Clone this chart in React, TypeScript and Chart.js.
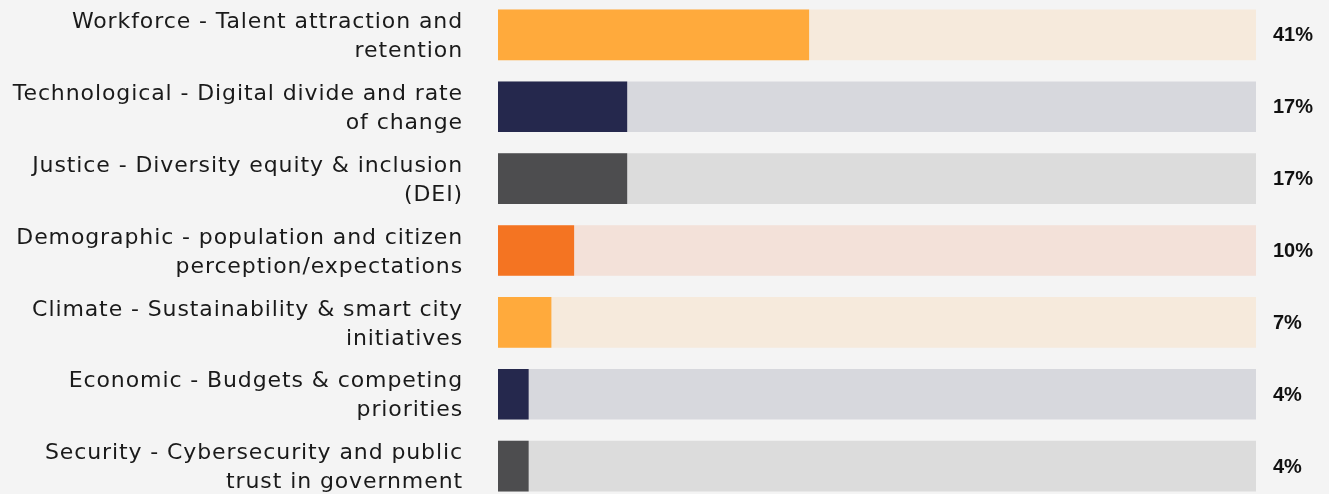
import React, { useEffect, useRef } from "react";
import { Chart, registerables } from "chart.js";

Chart.register(...registerables);

const categories: string[][] = [
  ["Workforce - Talent attraction and", "retention"],
  ["Technological - Digital divide and rate", "of change"],
  ["Justice - Diversity equity & inclusion", "(DEI)"],
  ["Demographic - population and citizen", "perception/expectations"],
  ["Climate - Sustainability & smart city", "initiatives"],
  ["Economic - Budgets & competing", "priorities"],
  ["Security - Cybersecurity and public", "trust in government"],
];
const values: number[] = [41, 17, 17, 10, 7, 4, 4];
const trackValues: number[] = [100, 100, 100, 100, 100, 100, 100];
const barColors: string[] = ["#ffaa3c", "#25284d", "#4d4d4f", "#f47422", "#ffaa3c", "#25284d", "#4d4d4f"];
const trackColors: string[] = ["#f6eadc", "#d7d8dd", "#dcdcdc", "#f3e1d9", "#f6eadc", "#d7d8dd", "#dcdcdc"];
const valueLabels: string[] = values.map((v) => `${v}%`);

export default function App() {
  const ref = useRef<HTMLCanvasElement | null>(null);

  useEffect(() => {
    document.body.style.margin = "0";
    document.body.style.background = "#f4f4f4";
    const canvas = ref.current;
    if (!canvas) return;

    const spacingPlugin = {
      id: "letterSpacing",
      beforeDraw(chart: any) {
        chart.ctx.letterSpacing = "0.9px";
      },
      afterDraw(chart: any) {
        chart.ctx.letterSpacing = "0px";
      },
    };

    const valueLabelPlugin = {
      id: "valueLabels",
      afterDatasetsDraw(chart: any) {
        const { ctx, chartArea } = chart;
        const meta = chart.getDatasetMeta(0);
        ctx.save();
        ctx.letterSpacing = "0px";
        ctx.font = "bold 20px 'Liberation Sans'";
        ctx.fillStyle = "#111111";
        ctx.textAlign = "left";
        ctx.textBaseline = "middle";
        meta.data.forEach((bar: any, i: number) => {
          ctx.fillText(valueLabels[i], chartArea.right + 17, bar.y + 1);
        });
        ctx.restore();
      },
    };

    const chart = new Chart(canvas, {
      type: "bar",
      data: {
        labels: categories,
        datasets: [
          {
            data: values,
            backgroundColor: barColors,
            barThickness: 50,
            grouped: false,
            order: 1,
          } as any,
          {
            data: trackValues,
            backgroundColor: trackColors,
            barThickness: 50,
            grouped: false,
            order: 2,
          } as any,
        ],
      },
      options: {
        indexAxis: "y",
        animation: false,
        responsive: false,
        maintainAspectRatio: false,
        layout: { padding: { top: 0, bottom: 0, left: 0, right: 73 } },
        plugins: {
          legend: { display: false },
          tooltip: { enabled: false },
        },
        scales: {
          x: { display: false, min: 0, max: 100 },
          y: {
            grid: { display: false, drawTicks: false },
            border: { display: false },
            ticks: {
              color: "#1a1a1a",
              padding: 35,
              labelOffset: 2,
              font: { family: "'DejaVu Sans'", size: 22, lineHeight: 1.32 },
            },
            afterFit(scale: any) {
              scale.width = 498;
              scale.paddingTop = 0;
              scale.paddingBottom = 0;
            },
          },
        },
      },
      plugins: [spacingPlugin, valueLabelPlugin],
    });
    return () => chart.destroy();
  }, []);

  return (
    <div style={{ position: "relative", width: 1329, height: 494, overflow: "hidden", background: "#f4f4f4" }}>
      <canvas ref={ref} width={1329} height={503} style={{ position: "absolute", top: -1, left: 0, display: "block" }} />
    </div>
  );
}
